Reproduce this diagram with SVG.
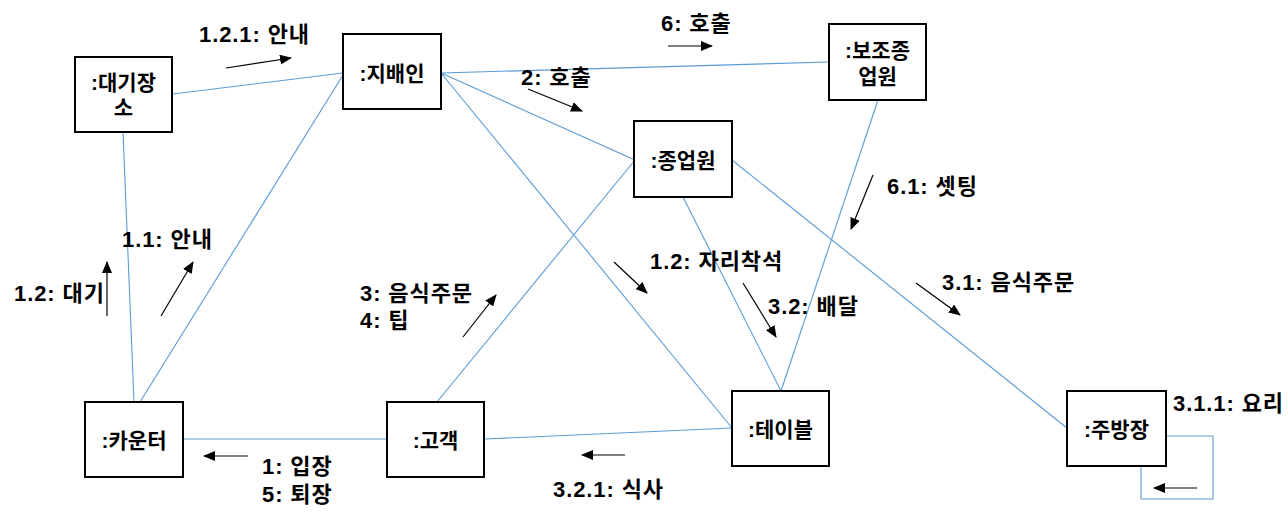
<svg xmlns="http://www.w3.org/2000/svg" width="1288" height="512" viewBox="0 0 1288 512">
<defs>
<style>
.node{fill:#fff;stroke:#000;stroke-width:2}
.conn{stroke:#5B9BD5;stroke-width:1.1;fill:none}
.msg{stroke:#000;stroke-width:1.2;fill:none;marker-end:url(#ah)}
text{font-family:"Liberation Sans","Noto Sans CJK KR",sans-serif;font-weight:bold;font-size:22px;fill:#000;dominant-baseline:central;letter-spacing:0.9px}
.c{text-anchor:middle;font-size:21px;letter-spacing:0}
</style>
<marker id="ah" viewBox="0 0 12 10" refX="11" refY="5" markerWidth="12" markerHeight="10" markerUnits="userSpaceOnUse" orient="auto">
<path d="M0,0 L12,5 L0,10 Z" fill="#000"/>
</marker>
</defs>
<rect width="1288" height="512" fill="#fff"/>
<g id="connectors">
<line class="conn" x1="173" y1="94" x2="343" y2="73"/>
<line class="conn" x1="123" y1="132" x2="134" y2="402"/>
<line class="conn" x1="343" y1="75" x2="140" y2="402"/>
<line class="conn" x1="441" y1="73" x2="829" y2="62"/>
<line class="conn" x1="441" y1="73" x2="635" y2="160"/>
<line class="conn" x1="441" y1="73" x2="732" y2="428"/>
<line class="conn" x1="635" y1="160" x2="437" y2="402"/>
<line class="conn" x1="683" y1="197" x2="781" y2="391"/>
<line class="conn" x1="878" y1="100" x2="781" y2="391"/>
<line class="conn" x1="732" y1="160" x2="1067" y2="428"/>
<line class="conn" x1="183" y1="439" x2="387" y2="439"/>
<line class="conn" x1="484" y1="439" x2="732" y2="428"/>
<polyline class="conn" points="1166,436 1213,436 1213,499 1141,499 1141,466"/>
</g>
<g id="messages">
<line class="msg" x1="226" y1="68" x2="291" y2="58"/>
<text x="199" y="34">1.2.1: 안내</text>
<line class="msg" x1="668" y1="46" x2="712" y2="46"/>
<text x="661" y="23">6: 호출</text>
<line class="msg" x1="528" y1="89" x2="582" y2="111"/>
<text x="521" y="77">2: 호출</text>
<line class="msg" x1="873" y1="175" x2="851" y2="229"/>
<text x="887" y="186">6.1: 셋팅</text>
<line class="msg" x1="614" y1="262" x2="647" y2="293"/>
<text x="650" y="261">1.2: 자리착석</text>
<line class="msg" x1="743" y1="283" x2="776" y2="337"/>
<text x="768" y="306">3.2: 배달</text>
<line class="msg" x1="916" y1="283" x2="960" y2="315"/>
<text x="942" y="282">3.1: 음식주문</text>
<line class="msg" x1="1197" y1="488" x2="1154" y2="488"/>
<text x="1173" y="403">3.1.1: 요리</text>
<line class="msg" x1="161" y1="316" x2="193" y2="262"/>
<text x="122" y="239">1.1: 안내</text>
<line class="msg" x1="107" y1="316" x2="107" y2="262"/>
<text x="14" y="293">1.2: 대기</text>
<line class="msg" x1="463" y1="337" x2="496" y2="295"/>
<text x="360" y="293">3: 음식주문<tspan x="360" dy="27">4: 팁</tspan></text>
<line class="msg" x1="248" y1="456" x2="204" y2="456"/>
<text x="262" y="466">1: 입장<tspan x="262" dy="28">5: 퇴장</tspan></text>
<line class="msg" x1="625" y1="455" x2="582" y2="455"/>
<text x="553" y="489">3.2.1: 식사</text>
</g>
<g id="node-waiting">
<rect class="node" x="75" y="57" width="97" height="75"/>
<text class="c" x="123.5" y="82">:대기장<tspan x="123.5" dy="25">소</tspan></text>
</g>
<g id="node-manager">
<rect class="node" x="343" y="34" width="98" height="75"/>
<text class="c" x="392" y="73">:지배인</text>
</g>
<g id="node-assistant">
<rect class="node" x="829" y="24" width="97" height="76"/>
<text class="c" x="877.5" y="50">:보조종<tspan x="877.5" dy="26">업원</tspan></text>
</g>
<g id="node-staff">
<rect class="node" x="634" y="121" width="98" height="76"/>
<text class="c" x="683" y="160">:종업원</text>
</g>
<g id="node-counter">
<rect class="node" x="85" y="402" width="98" height="75"/>
<text class="c" x="134" y="440">:카운터</text>
</g>
<g id="node-customer">
<rect class="node" x="387" y="402" width="97" height="75"/>
<text class="c" x="435.5" y="440">:고객</text>
</g>
<g id="node-table">
<rect class="node" x="732" y="391" width="97" height="75"/>
<text class="c" x="780.5" y="429">:테이블</text>
</g>
<g id="node-chef">
<rect class="node" x="1067" y="391" width="99" height="75"/>
<text class="c" x="1116.5" y="429">:주방장</text>
</g>
</svg>
